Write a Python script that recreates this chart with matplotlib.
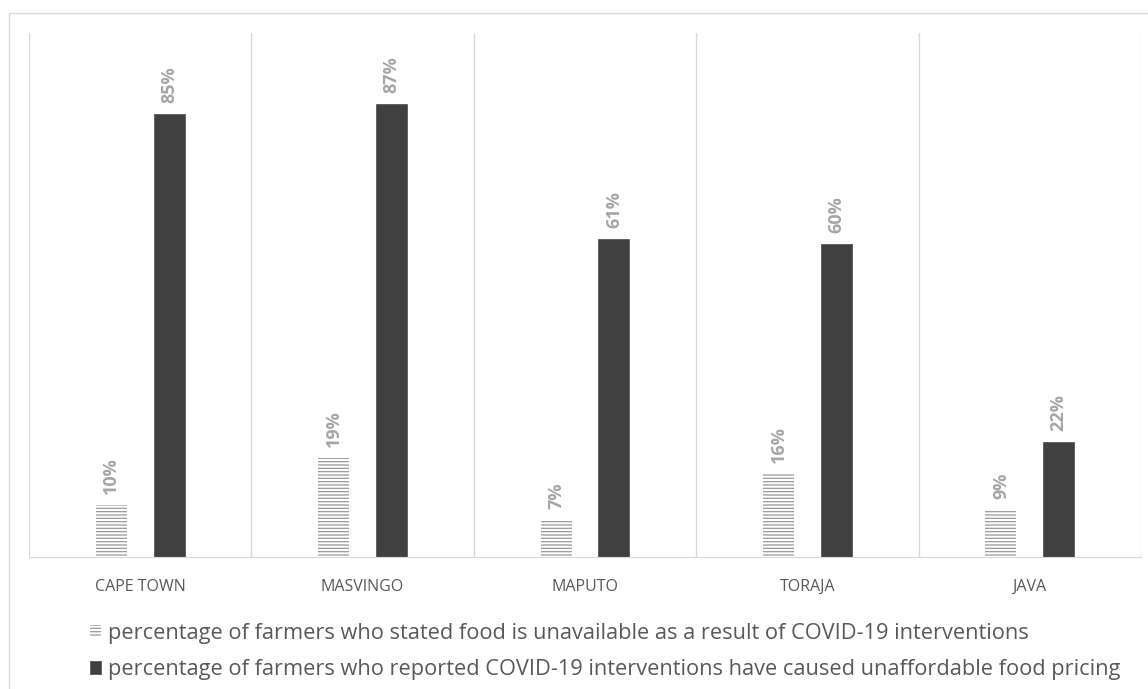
import matplotlib.pyplot as plt
import numpy as np
from matplotlib.patches import Rectangle

plt.rcParams['font.family'] = ['Open Sans', 'DejaVu Sans']
plt.rcParams['hatch.linewidth'] = 0.9

cities = ["CAPE TOWN", "MASVINGO", "MAPUTO", "TORAJA", "JAVA"]
unavailable = [10, 19, 7, 16, 9]
unaffordable = [85, 87, 61, 60, 22]
labels = [
    "percentage of farmers who stated food is unavailable as a result of COVID-19 interventions",
    "percentage of farmers who reported COVID-19 interventions have caused unaffordable food pricing",
]

fig = plt.figure(figsize=(11.48, 6.89), dpi=100)
ax = fig.add_axes([29/1148, 1 - 557/689, 1112/1148, 524/689])

# outer chart frame (only left and top show)
fig.patches.append(Rectangle((9/1148, -0.1), 1.2, 1 - 13/689 + 0.1,
                             transform=fig.transFigure, fill=False,
                             edgecolor='#d9d9d9', linewidth=1.0))

x = np.arange(len(cities))
w = 0.14
off = 0.13

b1 = ax.bar(x - off, unavailable, w, color='white', edgecolor='#9a9a9a',
            linewidth=0, hatch='-----', label=labels[0])
b2 = ax.bar(x + off, unaffordable, w, color='#404040', edgecolor='#595959',
            linewidth=0.6, label=labels[1])

for bars, vals in ((b1, unavailable), (b2, unaffordable)):
    for rect, v in zip(bars, vals):
        ax.annotate(f"{v}%", (rect.get_x() + rect.get_width() / 2, v),
                    xytext=(0, 8), textcoords='offset points',
                    rotation=90, ha='center', va='bottom',
                    fontsize=13, fontweight='bold', color='#a6a6a6')

ax.set_xlim(-0.5, len(cities) - 0.5)
ax.set_ylim(0, 100.6)
ax.set_yticks([])
ax.set_xticks(x)
ax.set_xticklabels(cities, fontsize=11.5, color='#595959')
ax.tick_params(axis='x', length=0, pad=16)

for b in np.arange(-0.5, len(cities), 1.0):
    ax.axvline(b, color='#d9d9d9', linewidth=1.0, zorder=0)

for s in ('top', 'left', 'right'):
    ax.spines[s].set_visible(False)
ax.spines['bottom'].set_color('#d9d9d9')

leg = fig.legend(handles=[b1, b2], labels=labels, loc='upper left',
                 bbox_to_anchor=(81/1148, 1 - 614/689), ncol=1, frameon=False,
                 fontsize=15.7, labelcolor='#595959', handlelength=0.5,
                 handleheight=0.5, handletextpad=0.35, labelspacing=0.72,
                 borderaxespad=0)

fig.savefig("out.png", dpi=100)
